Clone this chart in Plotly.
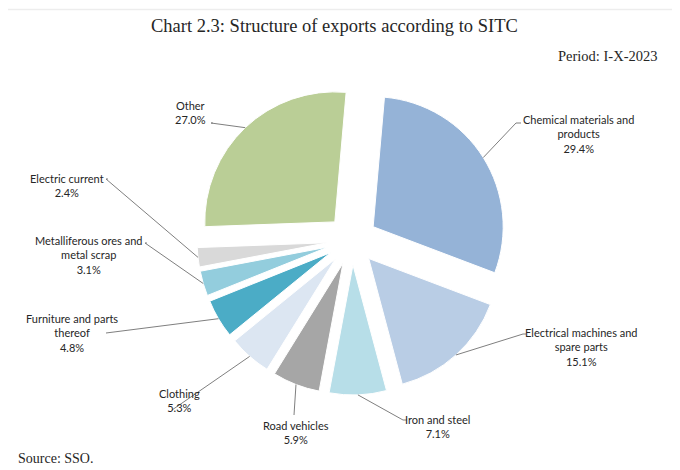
import math
import plotly.graph_objects as go

# ---- data ----
categories = ["Chemical materials and products", "Electrical machines and spare parts",
              "Iron and steel", "Road vehicles", "Clothing", "Furniture and parts thereof",
              "Metalliferous ores and metal scrap", "Electric current", "Other"]
label_text = ["Chemical materials and<br>products", "Electrical machines and<br>spare parts",
              "Iron and steel", "Road vehicles", "Clothing", "Furniture and parts<br>thereof",
              "Metalliferous ores and<br>metal scrap", "Electric current", "Other"]
shares = [29.4, 15.1, 7.1, 5.9, 5.3, 4.8, 3.1, 2.4, 27.0]
colors = ["#95B3D7", "#B9CDE5", "#B7DEE8", "#A6A6A6", "#DCE6F2", "#4BACC6",
          "#93CDDD", "#D9D9D9", "#BACE96"]

# ---- layout (pixel geometry, in window pixels) ----
OFF = 8                    # default page body margin
W, H = 680 - OFF, 470 - OFF
CX, CY = 352, 240          # pie centre (px)
HALF = 155                 # half domain size (px)
PULL = 0.192
ROT = 5
R = HALF / (1 + PULL)

# label block centres (px) and leader start / tick end (px)
label_pos = [(578, 134), (581, 347), (438, 426), (296, 432), (179, 400),
             (72, 333), (88, 255), (67, 185), (191, 112)]
leader_start = [(516, 123), (523, 334), (403, 420), (294, 415), (172, 410),
                (106, 333), (145, 243), (106, 179), (211, 123)]
tick_end = [(521, 123), (526, 334), (407, 420), (294, 415), (172, 410),
            (106, 333), (147, 243), (108, 179), (213, 123)]


def px(x):
    return (x - OFF) / W


def py(y):
    return 1 - (y - OFF) / H


fig = go.Figure(go.Pie(
    labels=categories, values=shares, sort=False, direction="clockwise",
    rotation=ROT, pull=[PULL] * len(shares),
    marker=dict(colors=colors, line=dict(color="white", width=1)),
    textinfo="none", hoverinfo="label+percent", showlegend=False,
    domain=dict(x=[px(CX - HALF), px(CX + HALF)], y=[py(CY + HALF), py(CY - HALF)]),
))

total = sum(shares)
cum = 0
shapes = []
annotations = []
for i, v in enumerate(shares):
    mid = math.radians(ROT + (cum + v / 2) / total * 360)
    cum += v
    ox = CX + PULL * R * math.sin(mid)
    oy = CY - PULL * R * math.cos(mid)
    ax = ox + R * math.sin(mid)
    ay = oy - R * math.cos(mid)
    sx, sy = leader_start[i]
    tx, ty = tick_end[i]
    path = f"M {px(ax)},{py(ay)} L {px(sx)},{py(sy)} L {px(tx)},{py(ty)}"
    shapes.append(dict(type="path", xref="paper", yref="paper", path=path,
                       line=dict(color="#7F7F7F", width=1)))
    lx, ly = label_pos[i]
    annotations.append(dict(
        x=px(lx), y=py(ly), xref="paper", yref="paper", showarrow=False,
        text=f"{label_text[i]}<br>{v:.1f}%", align="center",
        xanchor="center", yanchor="middle",
        font=dict(family="Lato", size=11, color="#262626")))

annotations += [
    dict(x=px(334), y=py(26), xref="paper", yref="paper", showarrow=False,
         text="Chart 2.3: Structure of exports according to SITC",
         xanchor="center", yanchor="middle",
         font=dict(family="Liberation Serif", size=18.5, color="#262626")),
    dict(x=px(659), y=py(56), xref="paper", yref="paper", showarrow=False,
         text="Period: I-X-2023", xanchor="right", yanchor="middle",
         font=dict(family="Liberation Serif", size=14.5, color="#262626")),
    dict(x=px(16), y=py(458), xref="paper", yref="paper", showarrow=False,
         text="Source: SSO.", xanchor="left", yanchor="middle",
         font=dict(family="Liberation Serif", size=14, color="#262626")),
]

# faint frame lines
shapes += [
    dict(type="line", xref="paper", yref="paper", x0=px(6.5), x1=1, y0=py(9.5), y1=py(9.5),
         line=dict(color="#EDEDED", width=1.5)),
    dict(type="line", xref="paper", yref="paper", x0=px(6.5), x1=px(6.5), y0=py(9.5), y1=0,
         line=dict(color="#EDEDED", width=1.5)),
]

fig.update_layout(
    width=W, height=H, margin=dict(l=0, r=0, t=0, b=0),
    paper_bgcolor="white", plot_bgcolor="white",
    shapes=shapes, annotations=annotations,
)
fig.write_html("out.html")
